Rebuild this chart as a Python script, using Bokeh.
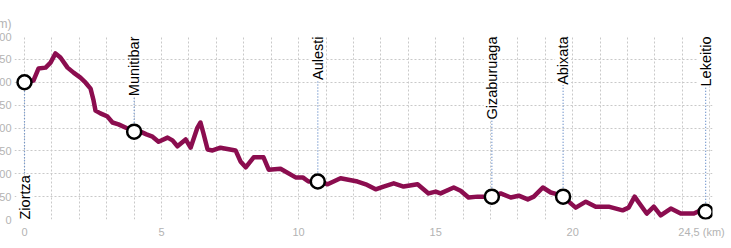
from bokeh.plotting import figure
from bokeh.models import FixedTicker, SingleIntervalTicker, Label, Range1d
from bokeh.embed import file_html
from bokeh.resources import INLINE
import math

# Elevation profile (km, m)
dist_km = [0.0, 0.33, 0.51, 0.77, 0.95, 1.13, 1.31, 1.57, 1.79, 2.04, 2.23, 2.41, 2.52, 2.59,
           2.77, 3.03, 3.21, 3.43, 3.76, 4.01, 4.23, 4.45, 4.67, 4.89, 5.22, 5.40, 5.58, 5.88,
           6.06, 6.31, 6.42, 6.53, 6.68, 6.86, 7.15, 7.70, 7.88, 8.07, 8.36, 8.72, 8.91, 9.34,
           9.89, 10.15, 10.36, 10.69, 11.06, 11.53, 12.15, 12.45, 12.81, 13.10, 13.47, 13.83,
           14.34, 14.74, 15.0, 15.18, 15.66, 15.91, 16.20, 16.53, 17.04, 17.37, 17.74, 18.03,
           18.36, 18.58, 18.91, 19.20, 19.45, 19.64, 20.11, 20.48, 20.84, 21.31, 21.82, 22.04,
           22.26, 22.41, 22.70, 22.96, 23.21, 23.58, 23.94, 24.42, 24.67, 24.85]
elev_m = [300, 304, 330, 332, 343, 363, 354, 332, 321, 310, 299, 286, 260, 238,
          232, 225, 212, 208, 199, 192, 192, 186, 181, 170, 179, 173, 160, 175,
          157, 201, 212, 188, 153, 151, 157, 151, 127, 114, 136, 136, 109, 111,
          92, 92, 83, 83, 77, 90, 83, 77, 66, 72, 79, 72,
          77, 57, 61, 57, 70, 63, 48, 50, 50, 57, 48, 52,
          44, 50, 70, 59, 55, 50, 26, 39, 28, 28, 20, 26,
          50, 37, 13, 28, 9, 24, 13, 13, 20, 17]

places = ["Ziortza", "Munitibar", "Aulesti", "Gizaburuaga", "Abixata", "Lekeitio"]
place_km = [0.0, 4.0, 10.7, 17.05, 19.65, 24.85]
place_elev = [300, 192, 83, 50, 50, 17]

x_ticks = [0, 5, 10, 15, 20, 24.7]
x_tick_labels = ["0", "5", "10", "15", "20", "24,5 (km)"]
y_ticks = [0, 50, 100, 150, 200, 250, 300, 350, 400]
y_unit = "(m)"

Y_MAX = 400
LINE_COLOR = "#8b0d4f"
TICK_COLOR = "#b3b3b3"
GRID_COLOR = "#c9c9c9"
LEADER_COLOR = "#5a84c4"
FONT = "Liberation Sans"

p = figure(frame_width=698, frame_height=183,
           min_border_left=30, min_border_right=17, min_border_top=36, min_border_bottom=21,
           x_range=Range1d(-0.365, 25.1), y_range=Range1d(0, Y_MAX),
           title=y_unit, output_backend="svg", toolbar_location=None)
p.styles = {"margin-left": "-16px"}
p.outline_line_color = None
p.background_fill_color = "white"
p.border_fill_color = "white"

# unit label as title, pulled to the left of the frame
p.title.align = "left"
p.title.offset = -21
p.title.standoff = 12
p.title.text_font = FONT
p.title.text_font_size = "12px"
p.title.text_font_style = "normal"
p.title.text_color = TICK_COLOR

# axes
for ax in (p.xaxis[0], p.yaxis[0]):
    ax.axis_line_color = None
    ax.major_tick_line_color = None
    ax.minor_tick_line_color = None
    ax.major_tick_out = 0
    ax.major_tick_in = 0
    ax.minor_tick_out = 0
    ax.major_label_text_color = TICK_COLOR
    ax.major_label_text_font = FONT
    ax.major_label_text_font_size = "11px"
p.xaxis.ticker = FixedTicker(ticks=x_ticks)
p.xaxis.major_label_overrides = {t: l for t, l in zip(x_ticks, x_tick_labels)}
p.xaxis.major_label_standoff = 6
p.yaxis.ticker = FixedTicker(ticks=y_ticks)
p.yaxis.major_label_standoff = 3

# grid
p.xgrid.ticker = SingleIntervalTicker(interval=1)
p.xgrid.grid_line_color = GRID_COLOR
p.xgrid.grid_line_dash = "2 2"
p.ygrid.grid_line_color = GRID_COLOR
p.ygrid.grid_line_dash = "2 2"

# leader lines: first place label sits below, the others at the top
lead_y1 = [0] + [Y_MAX] * (len(places) - 1)
p.segment(x0=place_km, y0=place_elev, x1=place_km, y1=lead_y1,
          line_color=LEADER_COLOR, line_width=1.2, line_dash="1 2")

# place labels
for i, (name, km) in enumerate(zip(places, place_km)):
    p.add_layout(Label(x=km, y=lead_y1[i], text=name, angle=math.pi / 2,
                       text_align="left" if i == 0 else "right", text_baseline="middle",
                       text_color="black", text_font=FONT, text_font_size="14.5px",
                       background_fill_color="white"))

# profile
p.line(dist_km, elev_m, line_color=LINE_COLOR, line_width=4.5, line_join="round", line_cap="round")

# place markers
p.scatter(place_km, place_elev, size=14, fill_color="white", line_color="black", line_width=2.5)

open("out.html", "w").write(file_html(p, INLINE))
